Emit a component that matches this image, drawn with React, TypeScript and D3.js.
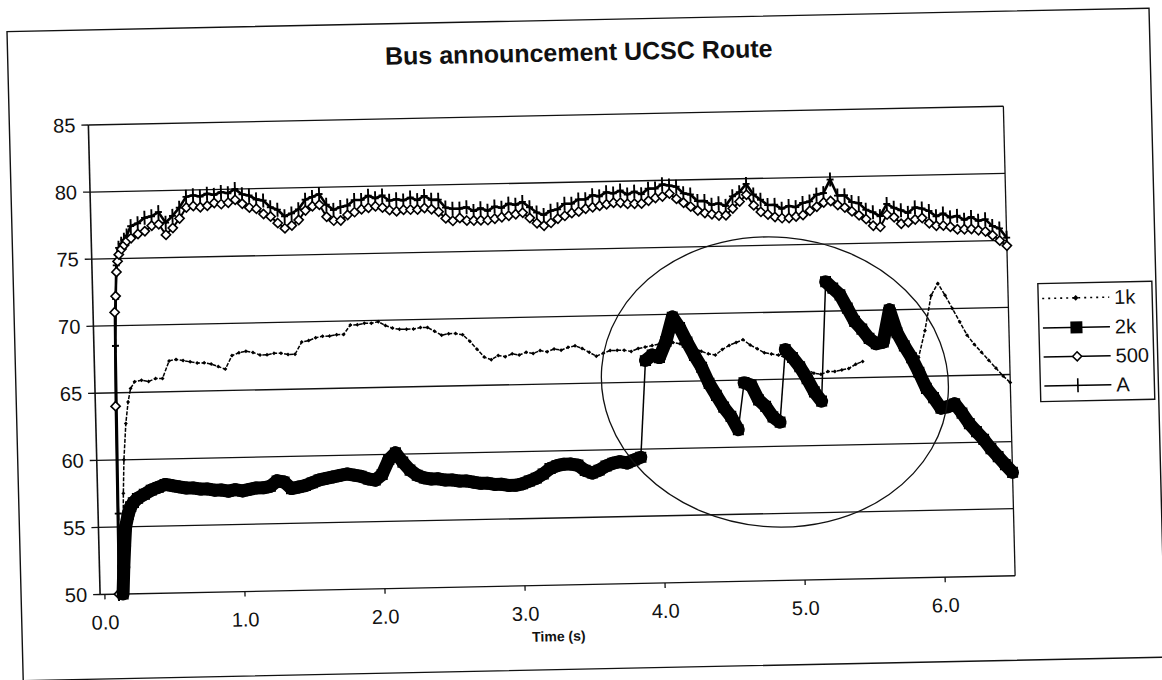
import React from 'react';
import * as d3 from 'd3';

// ---------- data ----------
const ONSET_TIMES = [0.10, 0.11, 0.12, 0.13, 0.14, 0.15, 0.16, 0.18, 0.20, 0.22];
const STEP_TIMES = d3.range(25, 651, 5).map((v) => v / 100); // 0.25 .. 6.50 s
const TIMES = [...ONSET_TIMES, ...STEP_TIMES];

const SERIES_1K: (number | null)[] = [
  null, null, null, 50.2, 54.0, 57.5, 60.0, 62.7, 64.3, 65.3,
  65.8, 65.9, 65.8, 66.0, 66.0, 67.3, 67.4, 67.3, 67.2, 67.1,
  67.1, 67.0, 66.8, 66.6, 67.6, 67.8, 67.9, 67.8, 67.6, 67.6,
  67.7, 67.7, 67.6, 67.6, 68.5, 68.6, 68.8, 68.9, 68.9, 69.0,
  69.0, 69.7, 69.7, 69.8, 69.8, 69.9, 69.6, 69.4, 69.3, 69.3,
  69.3, 69.4, 69.4, 69.1, 68.8, 68.9, 68.9, 68.8, 68.3, 67.7,
  67.1, 66.9, 67.2, 67.1, 67.3, 67.2, 67.4, 67.3, 67.5, 67.4,
  67.6, 67.5, 67.7, 67.8, 67.6, 67.3, 67.0, 67.2, 67.4, 67.4,
  67.4, 67.3, 67.5, 67.6, 67.7, 67.8, 67.7, 67.9, 67.8, 67.6,
  67.4, 67.2, 67.0, 66.9, 67.3, 67.6, 67.8, 68.0, 67.6, 67.3,
  67.0, 66.9, 66.8, 66.6, 66.3, 66.0, 65.7, 65.4, 65.3, 65.5,
  65.5, 65.6, 65.7, 66.0, 66.2, null, null, null, null, null,
  null, 66.3, 66.4, 68.4, 71.0, 71.9, 71.0, 70.0, 69.0, 68.0,
  67.3, 66.7, 66.1, 65.5, 64.9, 64.4,
];

const SERIES_2K: (number | null)[] = [
  null, null, null, 50.0, 52.0, 53.6, 55.0, 55.9, 56.5, 56.8,
  57.1, 57.4, 57.7, 57.9, 58.1, 58.0, 57.9, 57.8, 57.8, 57.7,
  57.7, 57.6, 57.6, 57.5, 57.6, 57.5, 57.6, 57.7, 57.7, 57.8,
  58.2, 58.1, 57.6, 57.7, 57.8, 58.0, 58.2, 58.3, 58.4, 58.5,
  58.6, 58.5, 58.4, 58.2, 58.1, 58.5, 59.6, 60.1, 59.4, 58.8,
  58.4, 58.2, 58.1, 58.1, 58.0, 58.0, 57.9, 57.9, 57.8, 57.7,
  57.7, 57.6, 57.6, 57.5, 57.5, 57.6, 57.8, 58.0, 58.3, 58.7,
  58.9, 59.0, 59.0, 58.9, 58.5, 58.3, 58.5, 58.8, 59.0, 59.1,
  59.0, 59.2, 59.4, 66.6, 67.0, 66.8, 68.0, 69.8, 69.0, 67.9,
  66.9, 66.0, 64.8, 63.9, 63.0, 62.3, 61.3, 64.8, 64.6, 63.5,
  63.0, 62.2, 61.8, 67.2, 66.6, 65.9, 65.0, 64.0, 63.3, 72.2,
  71.7, 71.2, 70.2, 69.2, 68.6, 67.9, 67.5, 67.6, 70.0, 68.3,
  67.3, 66.4, 65.3, 64.1, 63.4, 62.6, 62.7, 62.9, 62.2, 61.4,
  60.8, 60.2, 59.5, 58.9, 58.3, 57.7,
];

const SERIES_500: (number | null)[] = [
  50.0, 64.0, 71.0, 72.2, 74.0, 74.8, 75.3, 75.7, 76.0, 76.3,
  76.5, 76.8, 77.0, 77.4, 77.5, 76.7, 77.2, 77.9, 78.7, 78.8,
  78.7, 78.8, 79.0, 78.9, 79.0, 79.2, 78.9, 78.6, 78.5, 78.1,
  77.9, 77.4, 77.0, 77.2, 77.6, 78.3, 78.6, 78.7, 77.8, 77.5,
  77.5, 77.9, 78.1, 78.3, 78.4, 78.5, 78.4, 78.2, 78.1, 78.2,
  78.2, 78.2, 78.3, 78.2, 78.0, 77.5, 77.3, 77.5, 77.3, 77.3,
  77.3, 77.3, 77.4, 77.5, 77.6, 77.7, 77.8, 77.4, 77.0, 76.8,
  77.0, 77.3, 77.5, 77.7, 77.8, 78.0, 78.1, 78.2, 78.3, 78.4,
  78.4, 78.3, 78.3, 78.3, 78.5, 78.7, 78.8, 79.0, 78.6, 78.3,
  78.0, 77.7, 77.5, 77.4, 77.3, 77.3, 77.8, 78.3, 78.8, 78.0,
  77.5, 77.3, 77.1, 77.0, 77.0, 77.1, 77.2, 77.5, 77.8, 78.1,
  78.2, 77.9, 77.7, 77.4, 77.1, 76.8, 76.3, 76.2, 77.1, 76.9,
  76.4, 76.5, 76.7, 76.8, 76.4, 76.2, 76.2, 76.1, 75.9, 75.9,
  75.9, 75.8, 75.7, 75.4, 75.0, 74.6,
];

const SERIES_A: (number | null)[] = [
  50.0, 56.0, 68.5, 72.0, 74.5, 75.3, 75.8, 76.1, 76.4, 76.7,
  77.4, 77.6, 78.0, 78.1, 78.4, 77.6, 78.1, 78.7, 79.5, 79.6,
  79.5, 79.7, 79.6, 79.8, 79.7, 80.0, 79.6, 79.5, 79.2, 79.1,
  78.6, 78.4, 77.9, 78.1, 78.4, 79.1, 79.3, 79.5, 78.7, 78.3,
  78.5, 78.6, 79.0, 79.0, 79.3, 79.1, 79.3, 78.9, 79.0, 78.9,
  79.1, 78.9, 79.2, 78.9, 78.9, 78.3, 78.2, 78.2, 78.3, 78.0,
  78.2, 78.0, 78.3, 78.2, 78.5, 78.4, 78.6, 78.2, 77.8, 77.6,
  77.9, 78.0, 78.4, 78.4, 78.7, 78.7, 79.0, 78.9, 79.2, 79.1,
  79.3, 79.0, 79.2, 79.0, 79.4, 79.4, 79.7, 79.6, 79.5, 79.0,
  78.9, 78.4, 78.4, 78.1, 78.2, 78.0, 78.7, 79.0, 79.6, 78.8,
  78.4, 78.0, 78.0, 77.7, 77.9, 77.8, 78.1, 78.2, 78.7, 78.8,
  79.8, 78.6, 78.6, 78.1, 78.0, 77.5, 77.3, 77.0, 77.9, 77.6,
  77.4, 77.2, 77.6, 77.5, 77.3, 76.9, 77.1, 76.8, 76.9, 76.6,
  76.8, 76.5, 76.6, 76.1, 75.9, 75.2,
];

const SERIES_NAMES = ['1k', '2k', '500', 'A'];
const Y_TICKS = [50, 55, 60, 65, 70, 75, 80, 85];
const X_TICKS = [0, 1, 2, 3, 4, 5, 6];
const TITLE = 'Bus announcement UCSC Route';
const X_TITLE = 'Time (s)';
// hand-drawn ellipse annotation, in data units
const ANNOT = { t: 4.82, v: 64.8, rt: 1.24, rv: 10.8, angle: 6 };

// ---------- layout ----------
const W = 1162;
const H = 680;
const FRAME = { left: 15, top: 20, right: 1157, bottom: 669 };
const PLOT = { left: 94, right: 1009, top: 115, bottom: 584.5 };
const FONT = "'Liberation Sans', Arial, Helvetica, sans-serif";
// slight skew of the scanned page
const SKEW = 'matrix(1,-0.0205,0.025,1,-8.5,11.91)';

type Pt = { t: number; v: number | null };

export default function App() {
  const x = d3.scaleLinear().domain([-0.034, 6.5]).range([PLOT.left, PLOT.right]);
  const y = d3.scaleLinear().domain([50, 85]).range([PLOT.bottom, PLOT.top]);

  const pts = (vals: (number | null)[]): Pt[] => TIMES.map((t, i) => ({ t, v: vals[i] }));
  const line = d3
    .line<Pt>()
    .defined((d) => d.v != null)
    .x((d) => x(d.t))
    .y((d) => y(d.v as number));

  const p1k = pts(SERIES_1K);
  const p2k = pts(SERIES_2K);
  const p500 = pts(SERIES_500);
  const pA = pts(SERIES_A);

  const defined = (arr: Pt[]) => arr.filter((d) => d.v != null);

  // 2k segments: thick where continuous, thin on jumps
  const segs2k: { a: Pt; b: Pt; jump: boolean }[] = [];
  for (let i = 1; i < p2k.length; i++) {
    const a = p2k[i - 1];
    const b = p2k[i];
    if (a.v == null || b.v == null) continue;
    segs2k.push({ a, b, jump: Math.abs(b.v - a.v) > 2.5 });
  }

  const diamond = (s: number) => `M0,${-s}L${s},0L0,${s}L${-s},0Z`;

  const cx = x(ANNOT.t);
  const cy = y(ANNOT.v);
  const rx = x(ANNOT.t + ANNOT.rt) - cx;
  const ry = y(ANNOT.v - ANNOT.rv) - cy;

  const legendRows = [308, 337.5, 366.5, 395.5];
  const LX0 = 1043;
  const LX1 = 1110;
  const LXM = (LX0 + LX1) / 2;

  return (
    <svg
      width={W}
      height={H}
      viewBox={`0 0 ${W} ${H}`}
      style={{ position: 'absolute', left: 0, top: 0, background: '#fff' }}
      fontFamily={FONT}
    >
      <rect x={0} y={0} width={W} height={H} fill="#fff" />
      <g transform={SKEW}>
        {/* outer frame */}
        <rect
          x={FRAME.left}
          y={FRAME.top}
          width={FRAME.right - FRAME.left}
          height={FRAME.bottom - FRAME.top}
          fill="none"
          stroke="#111"
          strokeWidth={1.4}
        />
        {/* title */}
        <text x={586} y={61} textAnchor="middle" fontSize={25} fontWeight="bold" fill="#111">
          {TITLE}
        </text>

        {/* gridlines */}
        {Y_TICKS.map((t) => (
          <line
            key={'g' + t}
            x1={PLOT.left}
            x2={PLOT.right}
            y1={y(t)}
            y2={y(t)}
            stroke="#111"
            strokeWidth={1.3}
          />
        ))}
        {/* plot borders */}
        <line x1={PLOT.left} x2={PLOT.left} y1={PLOT.top} y2={PLOT.bottom} stroke="#111" strokeWidth={1.6} />
        <line x1={PLOT.right} x2={PLOT.right} y1={PLOT.top} y2={PLOT.bottom} stroke="#111" strokeWidth={1.3} />

        {/* y axis ticks + labels */}
        {Y_TICKS.map((t) => (
          <g key={'y' + t}>
            <line x1={PLOT.left - 7} x2={PLOT.left} y1={y(t)} y2={y(t)} stroke="#111" strokeWidth={1.3} />
            <text x={81} y={y(t)} dy="0.35em" textAnchor="end" fontSize={20} fill="#111">
              {t}
            </text>
          </g>
        ))}
        {/* x axis ticks + labels */}
        {X_TICKS.map((t) => (
          <g key={'x' + t}>
            <line x1={x(t)} x2={x(t)} y1={PLOT.bottom} y2={PLOT.bottom + 5} stroke="#111" strokeWidth={1.3} />
            <text x={x(t)} y={PLOT.bottom + 35} textAnchor="middle" fontSize={20} fill="#111">
              {d3.format('.1f')(t)}
            </text>
          </g>
        ))}
        <text
          x={(PLOT.left + PLOT.right) / 2}
          y={PLOT.bottom + 56}
          textAnchor="middle"
          fontSize={14}
          fontWeight="bold"
          fill="#111"
        >
          {X_TITLE}
        </text>

        {/* 1k series */}
        <path d={line(p1k) || ''} fill="none" stroke="#000" strokeWidth={1.5} strokeDasharray="4 1.5" />
        {defined(p1k).map((d, i) => (
          <path
            key={'m1k' + i}
            d={diamond(2)}
            transform={`translate(${x(d.t)},${y(d.v as number)})`}
            fill="#000"
          />
        ))}

        {/* A series */}
        <path d={line(pA) || ''} fill="none" stroke="#000" strokeWidth={2.6} />
        {defined(pA).map((d, i) => (
          <g key={'mA' + i} transform={`translate(${x(d.t)},${y(d.v as number)})`}>
            <line x1={0} x2={0} y1={-7} y2={7} stroke="#000" strokeWidth={1.9} />
            <line x1={-3.5} x2={3.5} y1={0} y2={0} stroke="#000" strokeWidth={1.9} />
          </g>
        ))}

        {/* 500 series */}
        <path d={line(p500) || ''} fill="none" stroke="#000" strokeWidth={2} />
        {defined(p500).map((d, i) => (
          <path
            key={'m500' + i}
            d={diamond(4.6)}
            transform={`translate(${x(d.t)},${y(d.v as number)})`}
            fill="#fff"
            stroke="#000"
            strokeWidth={1.6}
          />
        ))}

        {/* 2k series */}
        {segs2k.map((s, i) => (
          <line
            key={'s2k' + i}
            x1={x(s.a.t)}
            y1={y(s.a.v as number)}
            x2={x(s.b.t)}
            y2={y(s.b.v as number)}
            stroke="#000"
            strokeWidth={s.jump ? 1.5 : 13}
            strokeLinecap={s.jump ? 'butt' : 'round'}
          />
        ))}
        {defined(p2k).map((d, i) => (
          <rect
            key={'m2k' + i}
            x={x(d.t) - 5.5}
            y={y(d.v as number) - 5.5}
            width={11}
            height={11}
            fill="#000"
          />
        ))}

        {/* hand-drawn ellipse */}
        <ellipse
          cx={cx}
          cy={cy}
          rx={rx}
          ry={ry}
          transform={`rotate(${ANNOT.angle},${cx},${cy})`}
          fill="none"
          stroke="#111"
          strokeWidth={1.3}
        />

        {/* legend */}
        <rect x={1039} y={293} width={114} height={118} fill="#fff" stroke="#111" strokeWidth={1.4} />
        {SERIES_NAMES.map((name, i) => {
          const ly = legendRows[i];
          return (
            <g key={'lg' + name}>
              {i === 0 ? (
                <>
                  <line x1={LX0} x2={LX1} y1={ly} y2={ly} stroke="#000" strokeWidth={1.6} strokeDasharray="2 4" />
                  <path d={diamond(2.8)} transform={`translate(${LXM},${ly})`} fill="#000" />
                </>
              ) : (
                <line x1={LX0} x2={LX1} y1={ly} y2={ly} stroke="#000" strokeWidth={1.5} />
              )}
              {i === 1 && <rect x={LXM - 6} y={ly - 6} width={12} height={12} fill="#000" />}
              {i === 2 && (
                <path
                  d={diamond(4.5)}
                  transform={`translate(${LXM},${ly})`}
                  fill="#fff"
                  stroke="#000"
                  strokeWidth={1.5}
                />
              )}
              {i === 3 && <line x1={LXM} x2={LXM} y1={ly - 7} y2={ly + 7} stroke="#000" strokeWidth={1.6} />}
              <text x={1115} y={ly} dy="0.35em" fontSize={20} fill="#111">
                {name}
              </text>
            </g>
          );
        })}
      </g>
    </svg>
  );
}
